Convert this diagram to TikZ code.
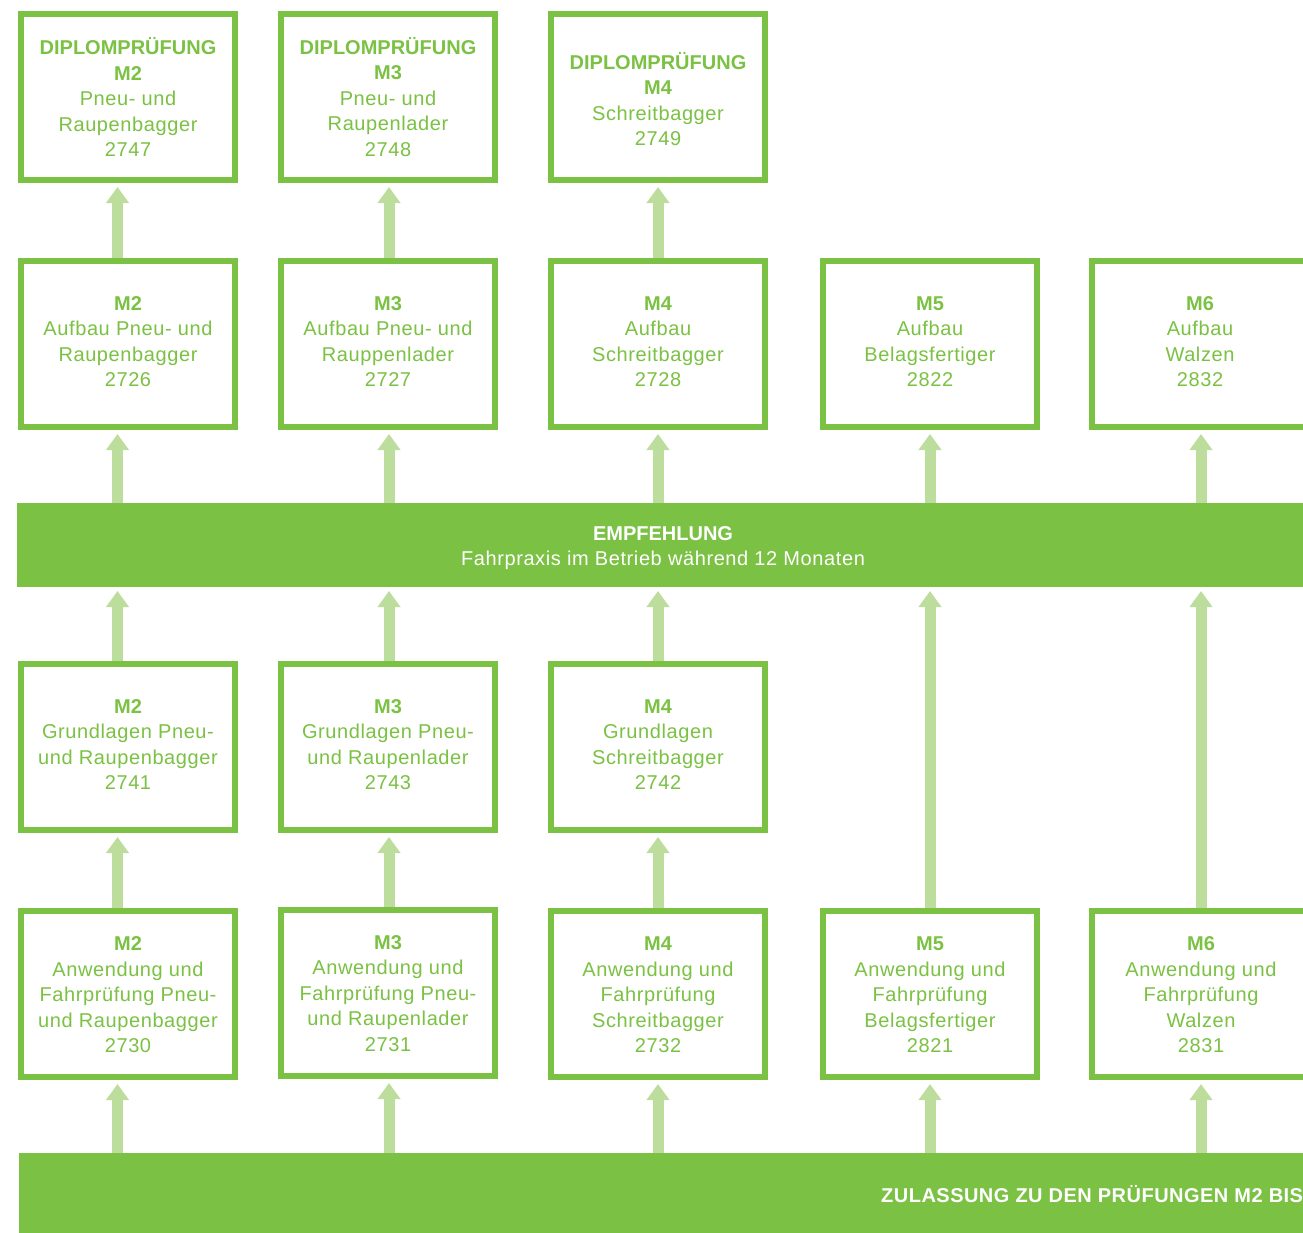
\documentclass[tikz,border=0pt]{standalone}
\usepackage{fontspec}
\setmainfont{Liberation Sans}[LetterSpace=3]
\newfontfamily\boldface{Liberation Sans}[BoldFont={Liberation Sans Bold}]
\newfontfamily\boldwide{Liberation Sans Bold}[LetterSpace=2.4]
\usetikzlibrary{arrows.meta}
\definecolor{dgreen}{HTML}{7BC143}
\definecolor{lgreen}{HTML}{BDDD9D}
\newcommand{\hd}[1]{{\boldface\bfseries #1}}
\tikzset{
  box/.style={draw=dgreen, line width=6pt, fill=white, minimum width=214pt, minimum height=166pt,
    inner sep=0pt},
  btext/.style={align=center, text=dgreen, inner sep=0pt, font=\fontsize{20}{25.5}\selectfont},
  band/.style={fill=dgreen, draw=none},
  arr/.style={draw=lgreen, line width=11pt, -{Triangle[width=22pt,length=16pt]}, shorten >=4pt},
  bandtext/.style={text=white, align=center, font=\fontsize{20}{25.5}\selectfont, inner sep=0pt}
}
\begin{document}
\begin{tikzpicture}[x=1pt,y=-1pt]
\clip (0,0) rectangle (1303,1232);
\fill[white] (0,0) rectangle (1303,1232);
% bands
\fill[band] (17,503) rectangle (1320,587);
\node[bandtext] (emp) at (663,548) {\hd{EMPFEHLUNG}\\Fahrpraxis im Betrieb während 12 Monaten};
\coordinate (empN) at (663,503);
\coordinate (empS) at (663,587);
\fill[band] (19,1153) rectangle (1320,1240);
\node[bandtext, anchor=west] (zul) at (881,1194) {\boldwide ZULASSUNG ZU DEN PRÜFUNGEN M2 BIS};
\coordinate (zulN) at (663,1153);
% arrow columns
\coordinate (a1) at (117.5,0);
\coordinate (a2) at (389,0);
\coordinate (a3) at (658,0);
\coordinate (a4) at (930,0);
\coordinate (a5) at (1201,0);
% row 1
\node[box] (r1c1) at (128,97) {};
\node[btext] (t1c1) at (r1c1.center) {\hd{DIPLOMPRÜFUNG}\\\hd{M2}\\Pneu- und\\Raupenbagger\\2747};
\node[box] (r1c2) at (388,97) {};
\node[btext] (t1c2) at (r1c2.center) {\hd{DIPLOMPRÜFUNG}\\\hd{M3}\\Pneu- und\\Raupenlader\\2748};
\node[box] (r1c3) at (658,97) {};
\node[btext] (t1c3) at ([yshift=-2pt]r1c3.center) {\hd{DIPLOMPRÜFUNG}\\\hd{M4}\\Schreitbagger\\2749};
% row 2
\node[box] (r2c1) at (128,344) {};
\node[btext] (t2c1) at ([yshift=2.5pt]r2c1.center) {\hd{M2}\\Aufbau Pneu- und\\Raupenbagger\\2726};
\node[box] (r2c2) at (388,344) {};
\node[btext] (t2c2) at ([yshift=2.5pt]r2c2.center) {\hd{M3}\\Aufbau Pneu- und\\Rauppenlader\\2727};
\node[box] (r2c3) at (658,344) {};
\node[btext] (t2c3) at ([yshift=2.5pt]r2c3.center) {\hd{M4}\\Aufbau\\Schreitbagger\\2728};
\node[box] (r2c4) at (930,344) {};
\node[btext] (t2c4) at ([yshift=2.5pt]r2c4.center) {\hd{M5}\\Aufbau\\Belagsfertiger\\2822};
\node[box] (r2c5) at (1199,344) {};
\node[btext] (t2c5) at ([yshift=2.5pt,xshift=1pt]r2c5.center) {\hd{M6}\\Aufbau\\Walzen\\2832};
% row 3
\node[box] (r3c1) at (128,747) {};
\node[btext] (t3c1) at ([yshift=2.5pt]r3c1.center) {\hd{M2}\\Grundlagen Pneu-\\und Raupenbagger\\2741};
\node[box] (r3c2) at (388,747) {};
\node[btext] (t3c2) at ([yshift=2.5pt]r3c2.center) {\hd{M3}\\Grundlagen Pneu-\\und Raupenlader\\2743};
\node[box] (r3c3) at (658,747) {};
\node[btext] (t3c3) at ([yshift=2.5pt]r3c3.center) {\hd{M4}\\Grundlagen\\Schreitbagger\\2742};
% row 4
\node[box] (r4c1) at (128,994) {};
\node[btext] (t4c1) at ([yshift=-1pt]r4c1.center) {\hd{M2}\\Anwendung und\\Fahrprüfung Pneu-\\und Raupenbagger\\2730};
\node[box] (r4c2) at (388,993) {};
\node[btext] (t4c2) at ([yshift=-0.5pt]r4c2.center) {\hd{M3}\\Anwendung und\\Fahrprüfung Pneu-\\und Raupenlader\\2731};
\node[box] (r4c3) at (658,994) {};
\node[btext] (t4c3) at ([yshift=-1pt]r4c3.center) {\hd{M4}\\Anwendung und\\Fahrprüfung\\Schreitbagger\\2732};
\node[box] (r4c4) at (930,994) {};
\node[btext] (t4c4) at ([yshift=-1pt]r4c4.center) {\hd{M5}\\Anwendung und\\Fahrprüfung\\Belagsfertiger\\2821};
\node[box] (r4c5) at (1199,994) {};
\node[btext] (t4c5) at ([yshift=-1pt,xshift=2pt]r4c5.center) {\hd{M6}\\Anwendung und\\Fahrprüfung\\Walzen\\2831};
% arrows row2 -> row1
\draw[arr] (r2c1.north -| a1) -- (r1c1.south -| a1);
\draw[arr] (r2c2.north -| a2) -- (r1c2.south -| a2);
\draw[arr] (r2c3.north -| a3) -- (r1c3.south -| a3);
% band -> row2
\draw[arr] (empN -| a1) -- (r2c1.south -| a1);
\draw[arr] (empN -| a2) -- (r2c2.south -| a2);
\draw[arr] (empN -| a3) -- (r2c3.south -| a3);
\draw[arr] (empN -| a4) -- (r2c4.south -| a4);
\draw[arr] (empN -| a5) -- (r2c5.south -| a5);
% row3 -> band
\draw[arr] (r3c1.north -| a1) -- (empS -| a1);
\draw[arr] (r3c2.north -| a2) -- (empS -| a2);
\draw[arr] (r3c3.north -| a3) -- (empS -| a3);
% row4 -> band (col 4,5)
\draw[arr] (r4c4.north -| a4) -- (empS -| a4);
\draw[arr] (r4c5.north -| a5) -- (empS -| a5);
% row4 -> row3
\draw[arr] (r4c1.north -| a1) -- (r3c1.south -| a1);
\draw[arr] (r4c2.north -| a2) -- (r3c2.south -| a2);
\draw[arr] (r4c3.north -| a3) -- (r3c3.south -| a3);
% bottom band -> row4
\draw[arr] (zulN -| a1) -- (r4c1.south -| a1);
\draw[arr] (zulN -| a2) -- (r4c2.south -| a2);
\draw[arr] (zulN -| a3) -- (r4c3.south -| a3);
\draw[arr] (zulN -| a4) -- (r4c4.south -| a4);
\draw[arr] (zulN -| a5) -- (r4c5.south -| a5);
\end{tikzpicture}
\end{document}
